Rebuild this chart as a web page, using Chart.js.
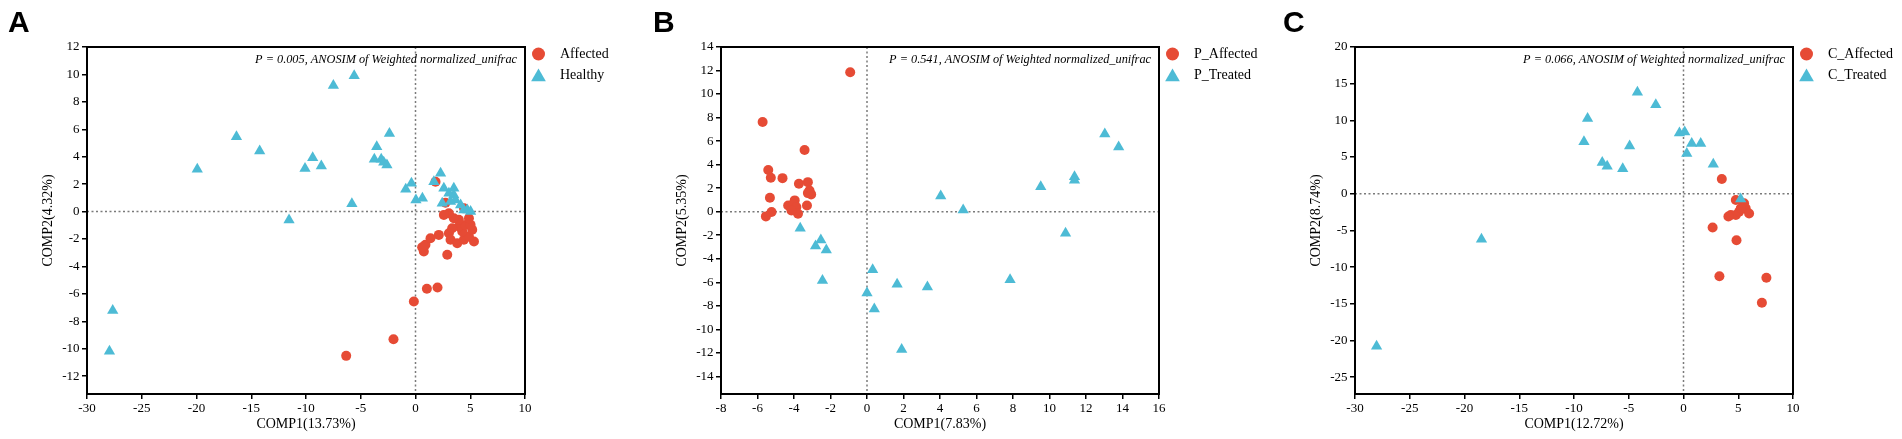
<!DOCTYPE html>
<html>
<head>
<meta charset="utf-8">
<script src="https://cdn.jsdelivr.net/npm/chart.js@4.4.1/dist/chart.umd.min.js"></script>
<style>
  html, body { margin: 0; padding: 0; background: #fff; }
  #wrap { position: relative; width: 1902px; height: 439px; }
  .panel { position: absolute; top: 0; width: 634px; height: 439px; }
</style>
</head>
<body>
<div id="wrap">
  <div class="panel" style="left:0px"><canvas id="chartA" width="634" height="439"></canvas></div>
  <div class="panel" style="left:634px"><canvas id="chartB" width="634" height="439"></canvas></div>
  <div class="panel" style="left:1268px"><canvas id="chartC" width="634" height="439"></canvas></div>
</div>
<script>
// PCoA scatter data ([COMP1, COMP2])

// Panel A
const affectedA = [
  [-6.33, -10.52], [-2.01, -9.31], [-0.15, -6.55], [1.04, -5.62], [2.01, -5.53], [2.9, -3.15],
  [0.76, -2.91], [0.61, -2.6], [0.91, -2.42], [1.37, -1.94], [2.13, -1.7], [3.05, -1.58],
  [3.2, -2.06], [3.81, -2.3], [4.42, -2.06], [5.34, -2.18], [4.88, -1.82], [5.18, -1.33],
  [4.27, -1.45], [3.96, -1.09], [4.57, -0.97], [5.03, -0.97], [4.88, -0.48], [3.96, -0.6],
  [3.5, -0.48], [3.05, -0.12], [2.59, -0.24], [2.74, 0.65], [1.83, 2.18], [3.35, -1.21], [4.43, 0.24]
];
const healthyA = [
  [-5.6, 9.9], [-7.5, 9.2], [-16.35, 5.45], [-14.23, 4.41], [-19.93, 3.08], [-9.39, 3.93],
  [-10.09, 3.15], [-8.6, 3.32], [-11.55, -0.61], [-5.81, 0.58], [-2.38, 5.7], [-3.54, 4.73],
  [-3.76, 3.81], [-3.13, 3.81], [-2.9, 3.6], [-2.61, 3.39], [-0.89, 1.62], [-0.37, 2.06],
  [0.04, 0.85], [0.63, 0.97], [-27.65, -7.22], [-27.95, -10.18],
  [2.29, 2.79], [1.68, 2.18], [2.59, 1.7], [2.44, 0.6], [3.5, 1.7], [3.5, 1.21], [3.66, 0.85],
  [3.2, 0.73], [4.12, 0.48], [4.73, 0.12], [5.03, 0.0], [4.42, 0.12], [3.05, 1.33]
];

// Panel B
const affectedB = [
  [-0.92, 11.86], [-5.72, 7.63], [-3.42, 5.25], [-5.41, 3.55], [-5.27, 2.88], [-4.63, 2.85],
  [-3.73, 2.37], [-3.24, 2.51], [-3.15, 1.8], [-3.06, 1.47], [-3.24, 1.58], [-5.32, 1.18],
  [-3.96, 0.96], [-4.32, 0.53], [-4.05, 0.62], [-3.87, 0.39], [-3.78, -0.17], [-3.29, 0.53],
  [-5.23, -0.03], [-5.54, -0.4], [-4.14, 0.11]
];
const treatedB = [
  [13.03, 6.6], [13.79, 5.5], [11.37, 2.97], [11.37, 2.68], [9.52, 2.12], [4.04, 1.33],
  [5.27, 0.14], [10.88, -1.84], [-3.66, -1.4], [-2.53, -2.4], [-2.82, -2.91], [-2.23, -3.25],
  [-2.44, -5.85], [0.31, -4.94], [0.0, -6.92], [0.4, -8.28], [1.65, -6.16], [3.31, -6.41],
  [7.84, -5.79], [1.9, -11.72]
];

// Panel C
const affectedC = [
  [3.5, 2.0], [4.78, -0.86], [5.53, -1.3], [5.68, -2.0], [5.99, -2.7], [4.32, -2.9],
  [4.78, -2.9], [5.08, -2.45], [5.23, -2.0], [4.1, -3.1], [2.66, -4.6], [4.84, -6.35],
  [3.28, -11.24], [7.57, -11.46], [7.16, -14.86]
];
const treatedC = [
  [-28.03, -20.8], [-18.45, -6.2], [-4.21, 13.82], [-2.53, 12.14], [-8.76, 10.24], [-9.09, 7.07],
  [-4.92, 6.52], [-7.42, 4.26], [-6.97, 3.76], [-5.55, 3.4], [-0.37, 8.29], [0.11, 8.43],
  [0.75, 6.84], [1.57, 6.84], [0.3, 5.48], [2.72, 4.03], [5.22, -0.72]
];

// Axis ticks
const xTicksA = [-30, -25, -20, -15, -10, -5, 0, 5, 10];
const yTicksA = [-12, -10, -8, -6, -4, -2, 0, 2, 4, 6, 8, 10, 12];
const xTicksB = [-8, -6, -4, -2, 0, 2, 4, 6, 8, 10, 12, 14, 16];
const yTicksB = [-14, -12, -10, -8, -6, -4, -2, 0, 2, 4, 6, 8, 10, 12, 14];
const xTicksC = [-30, -25, -20, -15, -10, -5, 0, 5, 10];
const yTicksC = [-25, -20, -15, -10, -5, 0, 5, 10, 15, 20];

const RED = '#E64B35';
const BLUE = '#4DBBD5';
const SERIF = '"Liberation Serif", "Times New Roman", serif';

function toPoints(arr) {
  return arr.map(p => ({ x: p[0], y: p[1] }));
}

// zero lines, frame, panel letter, annotation, legend
const decorPlugin = {
  id: 'decor',
  beforeDatasetsDraw(chart) {
    const { ctx, chartArea: a, scales: { x, y } } = chart;
    const x0 = x.getPixelForValue(0);
    const y0 = y.getPixelForValue(0);
    ctx.save();
    ctx.strokeStyle = '#7a7a7a';
    ctx.lineWidth = 1.5;
    ctx.setLineDash([2, 2.5]);
    ctx.beginPath();
    ctx.moveTo(x0, a.top); ctx.lineTo(x0, a.bottom);
    ctx.moveTo(a.left, y0); ctx.lineTo(a.right, y0);
    ctx.stroke();
    ctx.restore();
  },
  afterDraw(chart, args, opts) {
    const { ctx, chartArea: a } = chart;
    ctx.save();
    // frame
    ctx.strokeStyle = '#000';
    ctx.lineWidth = 2;
    ctx.strokeRect(a.left, a.top, a.right - a.left, a.bottom - a.top);

    // panel letter
    ctx.fillStyle = '#000';
    ctx.font = 'bold 30px "Liberation Sans", Arial, sans-serif';
    ctx.textBaseline = 'alphabetic';
    ctx.textAlign = 'left';
    ctx.fillText(opts.letter, opts.letterX, 32);

    // annotation
    ctx.font = 'italic 12.3px ' + SERIF;
    ctx.textAlign = 'right';
    ctx.textBaseline = 'middle';
    ctx.fillText(opts.note, a.right - 8, 60);

    // legend
    ctx.textAlign = 'left';
    ctx.font = '14px ' + SERIF;
    chart.data.datasets.forEach((ds, i) => {
      const yy = 54 + i * 21.5;
      ctx.fillStyle = ds.backgroundColor;
      Chart.helpers.drawPoint(ctx, {
        pointStyle: ds.pointStyle,
        radius: ds.pointStyle === 'triangle' ? 8.5 : 6.5,
        rotation: 0,
        borderWidth: 0
      }, a.right + 13.5, yy + (ds.pointStyle === 'triangle' ? 1.5 : 0));
      ctx.fillStyle = '#000';
      ctx.fillText(ds.label, a.right + 35, yy);
    });
    ctx.restore();
  }
};

function makeChart(id, cfg) {
  const tickFont = { family: SERIF, size: 13 };
  const titleFont = { family: SERIF, size: 14 };
  new Chart(document.getElementById(id), {
    type: 'scatter',
    data: {
      datasets: [{
        label: cfg.names[0],
        data: toPoints(cfg.circles),
        pointStyle: 'circle',
        pointRadius: 5,
        pointHoverRadius: 5,
        backgroundColor: RED,
        borderColor: RED,
        borderWidth: 0,
        order: 1
      }, {
        label: cfg.names[1],
        data: toPoints(cfg.triangles),
        pointStyle: 'triangle',
        pointRadius: 6.5,
        pointHoverRadius: 6.5,
        backgroundColor: BLUE,
        borderColor: BLUE,
        borderWidth: 0,
        order: 0
      }]
    },
    options: {
      responsive: false,
      animation: false,
      events: [],
      layout: { padding: { left: 0, right: 109, top: 47, bottom: 0 } },
      plugins: {
        legend: { display: false },
        tooltip: { enabled: false },
        decor: { letter: cfg.letter, letterX: cfg.letterX, note: cfg.note }
      },
      scales: {
        x: {
          type: 'linear',
          min: cfg.xMin,
          max: cfg.xMax,
          afterBuildTicks: s => { s.ticks = cfg.xTicks.map(v => ({ value: v })); },
          afterFit: s => { s.height = 45; },
          border: { display: false },
          grid: { drawOnChartArea: false, drawTicks: true, tickLength: 5, color: '#000', lineWidth: 1.5 },
          ticks: { font: tickFont, color: '#000', padding: 2, maxRotation: 0, autoSkip: false,
                   callback: v => String(v) },
          title: { display: true, text: cfg.xTitle, font: titleFont, color: '#000',
                   padding: { top: 0, bottom: 6.6 } }
        },
        y: {
          type: 'linear',
          min: cfg.yMin,
          max: cfg.yMax,
          afterBuildTicks: s => { s.ticks = cfg.yTicks.map(v => ({ value: v })); },
          afterFit: s => { s.width = 87; },
          border: { display: false },
          grid: { drawOnChartArea: false, drawTicks: true, tickLength: 5, color: '#000', lineWidth: 1.5 },
          ticks: { font: tickFont, color: '#000', padding: 2.5, autoSkip: false,
                   callback: v => String(v) },
          title: { display: true, text: cfg.yTitle, font: titleFont, color: '#000',
                   padding: { top: 39.6, bottom: 0 } }
        }
      }
    },
    plugins: [decorPlugin]
  });
}

makeChart('chartA', {
  letter: 'A', letterX: 8,
  names: ['Affected', 'Healthy'],
  circles: affectedA, triangles: healthyA,
  note: 'P = 0.005, ANOSIM of Weighted normalized_unifrac',
  xMin: -30, xMax: 10, yMin: -13.3, yMax: 12,
  xTicks: xTicksA, yTicks: yTicksA,
  xTitle: 'COMP1(13.73%)', yTitle: 'COMP2(4.32%)'
});

makeChart('chartB', {
  letter: 'B', letterX: 19,
  names: ['P_Affected', 'P_Treated'],
  circles: affectedB, triangles: treatedB,
  note: 'P = 0.541, ANOSIM of Weighted normalized_unifrac',
  xMin: -8, xMax: 16, yMin: -15.5, yMax: 14,
  xTicks: xTicksB, yTicks: yTicksB,
  xTitle: 'COMP1(7.83%)', yTitle: 'COMP2(5.35%)'
});

makeChart('chartC', {
  letter: 'C', letterX: 15,
  names: ['C_Affected', 'C_Treated'],
  circles: affectedC, triangles: treatedC,
  note: 'P = 0.066, ANOSIM of Weighted normalized_unifrac',
  xMin: -30, xMax: 10, yMin: -27.3, yMax: 20,
  xTicks: xTicksC, yTicks: yTicksC,
  xTitle: 'COMP1(12.72%)', yTitle: 'COMP2(8.74%)'
});
</script>
</body>
</html>
